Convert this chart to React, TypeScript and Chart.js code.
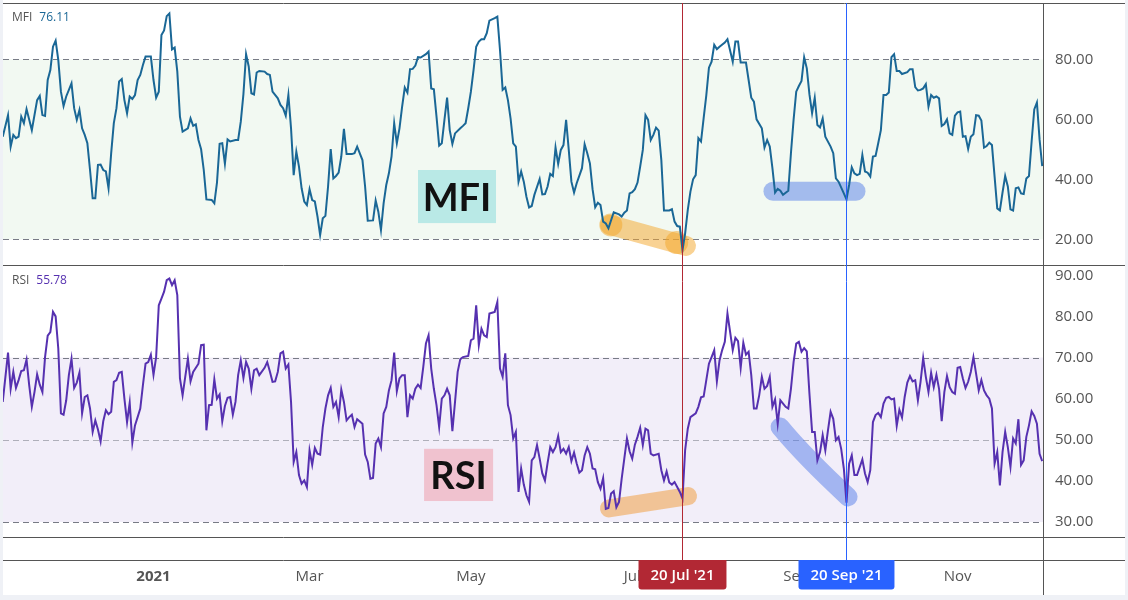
import React, { useEffect, useRef } from "react";
import { Chart, registerables } from "chart.js";

Chart.register(...registerables);

// ---------- data (x = days since 2021-01-01) ----------
const mfiDays = [
  -57, -55, -54, -53, -52, -51, -50, -49, -48, -46, -44, -43, -42, -41, -40, -39, -38, -37, -36, -35,
  -34, -33, -31, -30, -29, -28, -27, -26, -25, -24, -23, -22, -21, -20, -19, -18, -17, -16, -15, -14,
  -13, -12, -11, -10, -9, -8, -7, -6, -5, -4, -3, -1, 0, 1, 2, 3, 4, 5, 6, 7,
  8, 9, 10, 11, 13, 14, 15, 16, 17, 18, 19, 20, 22, 23, 24, 25, 26, 27, 28, 29,
  31, 32, 33, 34, 35, 36, 37, 38, 39, 40, 42, 43, 44, 45, 47, 48, 49, 50, 51, 52,
  53, 54, 55, 56, 57, 58, 59, 60, 61, 62, 63, 64, 65, 66, 67, 68, 69, 70, 71, 72,
  73, 75, 76, 77, 79, 80, 81, 83, 84, 85, 86, 87, 88, 89, 90, 91, 92, 93, 94, 95,
  96, 97, 98, 99, 100, 101, 103, 104, 105, 106, 107, 108, 109, 110, 111, 112, 113, 114, 116, 117,
  118, 119, 120, 121, 122, 123, 124, 125, 126, 127, 128, 129, 130, 131, 132, 133, 134, 135, 136, 137,
  138, 139, 140, 141, 142, 143, 144, 146, 147, 148, 149, 150, 151, 152, 153, 154, 155, 156, 157, 158,
  159, 160, 162, 163, 164, 165, 166, 167, 168, 169, 170, 171, 172, 174, 176, 177, 178, 179, 180, 181,
  182, 183, 184, 185, 186, 187, 188, 189, 190, 191, 192, 193, 195, 196, 197, 198, 199, 200, 201, 202,
  203, 204, 205, 206, 207, 208, 209, 210, 211, 212, 213, 214, 216, 217, 219, 220, 221, 222, 224, 225,
  226, 227, 228, 230, 231, 232, 233, 234, 235, 236, 237, 238, 240, 241, 242, 243, 244, 245, 246, 247,
  248, 249, 250, 251, 252, 253, 254, 256, 257, 258, 259, 261, 262, 263, 264, 265, 266, 267, 268, 269,
  270, 271, 272, 273, 274, 275, 276, 277, 278, 279, 280, 281, 282, 283, 285, 286, 287, 288, 289, 290,
  291, 292, 293, 294, 295, 296, 297, 298, 299, 300, 301, 302, 303, 304, 305, 306, 307, 308, 309, 310,
  311, 312, 313, 314, 315, 316, 317, 318, 319, 320, 321, 322, 323, 324, 325, 326, 327, 328, 329, 330,
  331, 332, 333, 334, 335, 336,
];
const mfiValues = [
  54.2, 61.4, 50.9, 54.8, 53.7, 54.2, 60.9, 58.7, 63.4, 56.4, 66.4, 67.8, 61.4, 61.1, 73.1, 76.4, 84.2, 86.2, 79.8, 69.2,
  64.4, 67.6, 72.0, 63.7, 59.8, 63.1, 57.0, 54.8, 52.0, 43.1, 33.7, 33.7, 44.8, 44.9, 43.1, 42.6, 37.0, 48.7, 58.7, 63.7,
  72.6, 73.4, 66.4, 62.0, 67.6, 66.8, 68.1, 73.1, 74.8, 78.1, 80.9, 80.9, 73.1, 67.2, 69.2, 88.1, 89.6, 94.4, 95.3, 83.3,
  83.9, 75.9, 60.9, 55.9, 57.0, 60.3, 57.8, 58.3, 53.1, 50.0, 43.1, 33.3, 33.1, 32.0, 38.9, 51.8, 52.0, 45.2, 53.3, 52.6,
  53.1, 53.1, 59.2, 68.4, 81.7, 77.6, 68.7, 68.3, 75.6, 76.1, 75.9, 75.1, 74.8, 69.2, 67.0, 64.8, 63.7, 61.2, 68.1, 57.0,
  41.4, 49.2, 44.2, 37.0, 32.6, 31.4, 36.7, 33.1, 32.6, 27.6, 21.4, 27.0, 27.8, 37.6, 50.1, 40.3, 41.1, 42.2, 47.6, 56.8,
  48.4, 48.4, 48.7, 50.9, 46.4, 37.6, 26.2, 26.3, 32.9, 29.2, 23.1, 32.0, 38.1, 42.0, 47.6, 58.7, 52.0, 57.0, 64.2, 70.6,
  68.9, 76.7, 76.8, 77.9, 80.7, 80.6, 81.7, 82.6, 70.3, 70.0, 60.9, 51.2, 52.0, 59.8, 67.2, 56.4, 51.8, 55.3, 57.0, 57.8,
  58.7, 63.7, 69.2, 76.4, 84.2, 85.9, 86.7, 86.7, 88.7, 92.9, 93.3, 93.7, 94.2, 83.1, 69.8, 70.6, 66.4, 60.3, 52.0, 50.9,
  39.2, 42.6, 39.2, 34.2, 30.6, 31.1, 34.8, 40.1, 35.0, 35.1, 37.6, 41.8, 41.1, 50.6, 45.1, 49.8, 51.4, 59.8, 49.8, 39.2,
  35.6, 38.7, 43.7, 51.7, 48.7, 45.3, 36.7, 30.7, 32.2, 31.4, 25.9, 25.3, 23.7, 29.0, 28.3, 27.6, 28.9, 29.6, 35.3, 35.7,
  36.7, 38.9, 44.2, 49.8, 61.4, 59.8, 53.1, 54.8, 57.2, 56.2, 46.4, 29.6, 29.6, 30.0, 25.9, 24.4, 24.2, 16.4, 22.0, 29.8,
  35.9, 40.0, 41.4, 53.7, 52.6, 60.4, 68.0, 77.2, 79.2, 84.8, 83.4, 84.2, 85.6, 86.7, 79.2, 85.9, 85.9, 78.9, 78.9, 73.1,
  67.2, 65.9, 60.0, 57.0, 50.6, 53.1, 50.9, 43.7, 35.6, 36.8, 36.2, 34.8, 36.2, 48.7, 59.8, 69.2, 71.1, 72.8, 80.7, 77.0,
  68.3, 62.0, 67.2, 58.1, 57.3, 60.3, 54.2, 50.9, 48.7, 40.3, 39.2, 35.3, 33.3, 38.1, 44.0, 42.0, 41.4, 41.8, 48.1, 42.6,
  42.2, 40.9, 47.6, 47.8, 52.0, 56.4, 68.1, 68.1, 68.9, 80.7, 81.7, 76.1, 76.1, 75.1, 75.7, 76.7, 76.7, 70.7, 69.6, 69.8,
  70.3, 71.7, 64.2, 68.1, 67.2, 67.6, 67.0, 57.8, 58.4, 60.0, 55.3, 54.8, 61.2, 62.3, 62.6, 54.2, 54.4, 50.1, 54.2, 55.0,
  61.4, 61.2, 59.6, 50.6, 51.1, 52.2, 51.4, 40.9, 30.3, 29.6, 35.6, 41.1, 37.6, 30.0, 29.6, 37.0, 37.3, 35.3, 35.1, 40.3,
  41.1, 52.6, 63.3, 65.6, 53.3, 44.4,
];

const rsiDays = [
  -57, -55, -54, -53, -52, -51, -50, -49, -48, -47, -46, -45, -44, -43, -42, -41, -40, -39, -38, -37,
  -36, -35, -34, -33, -32, -31, -30, -29, -28, -27, -26, -25, -24, -23, -22, -21, -20, -19, -18, -17,
  -16, -15, -14, -13, -12, -11, -10, -9, -8, -7, -6, -5, -4, -3, -2, -1, 0, 1, 2, 3,
  4, 5, 6, 7, 8, 9, 10, 11, 12, 13, 14, 15, 17, 18, 19, 20, 21, 22, 23, 24,
  25, 26, 27, 28, 29, 30, 31, 32, 33, 34, 35, 36, 37, 38, 39, 40, 42, 43, 44, 45,
  46, 47, 48, 49, 50, 51, 52, 53, 54, 55, 56, 57, 58, 59, 60, 61, 62, 63, 64, 65,
  66, 67, 68, 69, 70, 71, 72, 73, 74, 75, 76, 77, 79, 80, 81, 82, 83, 84, 85, 86,
  87, 88, 89, 90, 91, 92, 93, 94, 95, 96, 97, 98, 99, 100, 101, 102, 103, 104, 105, 106,
  107, 108, 109, 110, 111, 112, 113, 114, 115, 116, 117, 119, 120, 121, 122, 123, 124, 125, 126, 127,
  128, 129, 130, 131, 132, 133, 134, 135, 136, 137, 138, 139, 140, 141, 142, 143, 144, 145, 146, 147,
  148, 149, 150, 151, 152, 153, 154, 155, 156, 157, 158, 159, 160, 161, 162, 163, 164, 165, 166, 167,
  168, 169, 170, 171, 172, 173, 174, 175, 176, 177, 178, 179, 180, 181, 182, 183, 184, 185, 186, 187,
  188, 189, 191, 192, 193, 194, 195, 196, 197, 198, 199, 200, 201, 202, 203, 205, 206, 207, 208, 209,
  210, 211, 212, 213, 214, 215, 216, 217, 219, 220, 221, 222, 223, 224, 225, 226, 227, 228, 229, 230,
  231, 232, 233, 234, 235, 236, 237, 239, 240, 241, 242, 243, 244, 245, 246, 247, 248, 249, 250, 251,
  252, 253, 254, 255, 256, 257, 258, 259, 260, 261, 262, 263, 264, 265, 266, 268, 269, 270, 271, 272,
  273, 274, 275, 276, 277, 278, 279, 280, 281, 282, 283, 284, 285, 286, 287, 288, 289, 290, 291, 292,
  293, 294, 295, 296, 297, 298, 299, 300, 301, 302, 303, 304, 305, 306, 307, 308, 309, 310, 311, 312,
  313, 314, 315, 316, 317, 318, 319, 320, 321, 322, 323, 324, 325, 326, 327, 328, 329, 330, 331, 332,
  333, 334, 335, 336,
];
const rsiValues = [
  59.2, 71.2, 62.4, 66.5, 62.6, 64.5, 66.7, 66.9, 69.5, 63.3, 58.0, 61.6, 65.9, 63.4, 61.6, 70.1, 75.3, 76.2, 81.1, 80.0,
  72.2, 56.4, 56.1, 59.6, 65.7, 69.7, 62.6, 63.9, 66.3, 56.4, 60.4, 60.8, 57.6, 51.9, 54.7, 52.5, 49.6, 54.5, 57.2, 56.2,
  56.8, 64.1, 64.5, 66.3, 66.5, 60.0, 54.3, 59.0, 49.3, 53.5, 55.5, 57.6, 63.3, 68.5, 68.9, 70.7, 65.8, 70.1, 82.7, 84.3,
  86.0, 88.8, 89.2, 87.6, 88.8, 85.2, 64.9, 60.8, 65.3, 69.7, 64.2, 66.5, 68.5, 73.0, 73.1, 52.3, 58.4, 58.5, 64.7, 60.0,
  61.0, 54.5, 58.2, 60.2, 60.4, 56.1, 59.2, 65.7, 69.3, 65.0, 68.9, 67.3, 62.4, 66.9, 67.3, 65.7, 67.5, 68.9, 66.6, 64.1,
  64.2, 66.5, 71.0, 71.4, 67.3, 68.3, 59.2, 44.6, 47.0, 41.4, 39.3, 40.1, 38.5, 47.4, 43.9, 48.0, 46.6, 46.4, 53.1, 57.6,
  60.8, 62.6, 58.0, 59.2, 55.5, 62.2, 59.2, 54.7, 55.5, 56.1, 53.1, 55.0, 53.9, 46.4, 44.6, 40.5, 40.7, 49.1, 50.3, 48.2,
  56.4, 58.0, 62.0, 64.5, 71.2, 61.8, 64.9, 65.7, 65.7, 55.5, 60.8, 60.0, 62.4, 63.4, 62.6, 67.7, 73.4, 75.4, 67.3, 62.4,
  58.4, 53.1, 60.0, 60.8, 62.4, 60.8, 52.1, 59.2, 66.5, 69.6, 70.1, 70.4, 74.2, 74.6, 82.7, 73.0, 77.0, 75.4, 75.0, 80.7,
  80.9, 81.1, 83.5, 67.3, 65.3, 71.0, 58.4, 56.0, 50.3, 51.9, 37.3, 43.0, 39.1, 36.5, 34.9, 45.0, 45.8, 48.7, 45.4, 41.8,
  40.1, 44.4, 48.2, 47.0, 48.2, 50.9, 47.0, 47.8, 46.6, 48.2, 44.8, 46.9, 44.2, 42.0, 42.6, 46.2, 48.2, 46.6, 43.0, 42.8,
  39.7, 38.1, 40.7, 33.2, 33.4, 36.9, 37.5, 33.6, 34.9, 40.5, 45.4, 50.3, 47.2, 45.4, 48.8, 50.7, 52.9, 48.7, 52.7, 52.3,
  46.6, 46.2, 46.6, 42.6, 40.1, 42.3, 39.6, 39.1, 39.7, 38.5, 37.3, 35.7, 47.5, 52.7, 55.5, 56.4, 58.0, 60.3, 60.5, 64.5,
  68.5, 70.1, 71.8, 64.2, 69.3, 71.8, 73.8, 80.7, 71.8, 74.8, 74.0, 67.5, 73.6, 70.7, 71.4, 65.7, 57.6, 57.6, 60.8, 65.3,
  62.4, 63.1, 65.3, 58.0, 59.8, 53.9, 59.6, 58.0, 57.6, 62.4, 68.9, 73.4, 73.8, 71.4, 72.3, 71.5, 61.2, 51.9, 51.9, 45.0,
  47.0, 51.1, 47.4, 52.3, 56.8, 55.1, 49.9, 50.7, 47.8, 43.0, 34.7, 44.2, 46.2, 41.4, 41.4, 45.2, 41.8, 39.7, 42.6, 54.3,
  56.0, 56.5, 55.5, 58.8, 60.2, 60.4, 59.8, 60.0, 53.4, 57.3, 55.4, 60.4, 63.9, 65.5, 64.2, 64.5, 59.6, 64.1, 69.9, 65.3,
  61.6, 66.3, 62.8, 65.8, 62.4, 54.5, 61.6, 65.5, 62.8, 61.6, 61.2, 67.5, 67.7, 64.9, 62.6, 64.1, 66.5, 70.1, 66.1, 62.0,
  64.5, 62.0, 60.8, 60.0, 57.6, 44.2, 47.0, 38.9, 47.0, 51.9, 48.2, 43.4, 50.3, 49.1, 55.0, 43.9, 45.0, 50.7, 53.5, 56.9,
  55.8, 53.9, 46.6, 44.8,
];

const monthTickDays = [0, 59, 120, 181, 243, 304];
const monthTickLabels = ["2021", "Mar", "May", "Jul", "Sep", "Nov"];
const mfiTicks = [20, 40, 60, 80];
const rsiTicks = [30, 40, 50, 60, 70, 80, 90];
const mfiLevels = [20, 80];
const rsiLevels = [30, 70];
const rsiMidLevel = 50;
const crosshairDays = [200, 262];
const mfiHeaderValue = "76.11";
const rsiHeaderValue = "55.78";

// ---------- styles / annotations (in data units) ----------
const FONT = '"Open Sans", "DejaVu Sans", sans-serif';
const TEXT = "#555";
const MFI_COLOR = "#1a6796";
const RSI_COLOR = "#5631b0";
const FRAME = "#555";
const CROSS_COLORS = ["#b22834", "#2962ff"];
const MONTHS = ["Jan", "Feb", "Mar", "Apr", "May", "Jun", "Jul", "Aug", "Sep", "Oct", "Nov", "Dec"];

function dateLabel(day: number) {
  const dt = new Date(Date.UTC(2021, 0, 1 + day));
  return `${dt.getUTCDate()} ${MONTHS[dt.getUTCMonth()]} '${String(dt.getUTCFullYear()).slice(2)}`;
}

const noPad = (s: any) => {
  s.paddingTop = 0;
  s.paddingBottom = 0;
  s.paddingLeft = 0;
  s.paddingRight = 0;
};

const decor = {
  id: "decor",
  beforeDraw(chart: any) {
    const { ctx, width, height } = chart;
    ctx.save();
    ctx.fillStyle = "#eff1f6";
    ctx.fillRect(0, 0, width, height);
    ctx.fillStyle = "#ffffff";
    ctx.fillRect(3, 0, width - 6, height - 5);
    ctx.restore();
  },
  beforeDatasetsDraw(chart: any) {
    const { ctx, chartArea } = chart;
    const xs = chart.scales.x;
    const ym = chart.scales.yMfi;
    const yr = chart.scales.yRsi;
    const L = chartArea.left;
    const R = chartArea.right;
    ctx.save();
    // bands
    ctx.fillStyle = "rgba(76,175,80,0.075)";
    const m80 = ym.getPixelForValue(mfiLevels[1]);
    const m20 = ym.getPixelForValue(mfiLevels[0]);
    ctx.fillRect(L, m80, R - L, m20 - m80);
    ctx.fillStyle = "rgba(126,87,194,0.1)";
    const r70 = yr.getPixelForValue(rsiLevels[1]);
    const r30 = yr.getPixelForValue(rsiLevels[0]);
    ctx.fillRect(L, r70, R - L, r30 - r70);
    // dashed levels
    ctx.lineWidth = 1;
    ctx.setLineDash([6, 4]);
    const hline = (y: number, color: string) => {
      ctx.strokeStyle = color;
      ctx.beginPath();
      ctx.moveTo(L, Math.round(y) + 0.5);
      ctx.lineTo(R, Math.round(y) + 0.5);
      ctx.stroke();
    };
    mfiLevels.forEach((v) => hline(ym.getPixelForValue(v), "#787b86"));
    rsiLevels.forEach((v) => hline(yr.getPixelForValue(v), "#787b86"));
    hline(yr.getPixelForValue(rsiMidLevel), "rgba(120,123,134,0.55)");
    ctx.setLineDash([]);

    const P = (d: number, v: number, s: any) => [xs.getPixelForValue(d), s.getPixelForValue(v)];
    const seg = (pts: number[][], w: number, color: string, ctrl?: number[]) => {
      ctx.strokeStyle = color;
      ctx.lineWidth = w;
      ctx.lineCap = "round";
      ctx.beginPath();
      ctx.moveTo(pts[0][0], pts[0][1]);
      if (ctrl) ctx.quadraticCurveTo(ctrl[0], ctrl[1], pts[1][0], pts[1][1]);
      else ctx.lineTo(pts[1][0], pts[1][1]);
      ctx.stroke();
    };
    const dot = (p: number[], r: number, color: string) => {
      ctx.fillStyle = color;
      ctx.beginPath();
      ctx.arc(p[0], p[1], r, 0, Math.PI * 2);
      ctx.fill();
    };
    // text boxes
    const box = (d0: number, d1: number, v0: number, v1: number, s: any, fill: string, text: string) => {
      const [x0, y0] = P(d0, v1, s);
      const [x1, y1] = P(d1, v0, s);
      ctx.fillStyle = fill;
      ctx.fillRect(x0, y0, x1 - x0, y1 - y0);
      ctx.fillStyle = "#111";
      ctx.font = 'bold 38px "Lato", sans-serif';
      ctx.textAlign = "center";
      ctx.textBaseline = "alphabetic";
      ctx.fillText(text, (x0 + x1) / 2, (y0 + y1) / 2 + 14);
    };
    box(100, 129.5, 25.4, 43.1, ym, "#b9e9e6", "MFI");
    box(102.3, 128.4, 35.1, 47.8, yr, "#f0c2cf", "RSI");

    // highlighter strokes
    const orange = "rgba(243,165,40,0.5)";
    seg([P(172.6, 24.8, ym), P(201.3, 17.8, ym)], 20, orange);
    dot(P(172.9, 24.8, ym), 11.5, orange);
    dot(P(197.8, 18.9, ym), 11.5, orange);
    seg([P(172.2, 33.3, yr), P(202.1, 36.3, yr)], 18, "rgba(240,160,70,0.55)");
    const blue = "rgba(66,110,230,0.45)";
    seg([P(234.2, 36.0, ym), P(265.6, 36.0, ym)], 19, blue);
    seg([P(236.9, 53.1, yr), P(262.6, 36.1, yr)], 19, blue, P(246.3, 45.8, yr));
    ctx.restore();
  },
  afterDraw(chart: any) {
    const { ctx, chartArea, width, height } = chart;
    const xs = chart.scales.x;
    const ym = chart.scales.yMfi;
    const yr = chart.scales.yRsi;
    ctx.save();
    // frame lines
    ctx.strokeStyle = FRAME;
    ctx.lineWidth = 1;
    const ys = [chartArea.top, ym.bottom, yr.bottom, chartArea.bottom];
    ys.forEach((y) => {
      ctx.beginPath();
      ctx.moveTo(3, Math.round(y) + 0.5);
      ctx.lineTo(width - 3, Math.round(y) + 0.5);
      ctx.stroke();
    });
    ctx.beginPath();
    ctx.moveTo(Math.round(chartArea.right) + 0.5, chartArea.top);
    ctx.lineTo(Math.round(chartArea.right) + 0.5, height - 5);
    ctx.stroke();

    // crosshair verticals
    crosshairDays.forEach((d, i) => {
      const x = Math.round(xs.getPixelForValue(d)) + 0.5;
      ctx.strokeStyle = CROSS_COLORS[i];
      ctx.beginPath();
      ctx.moveTo(x, chartArea.top);
      ctx.lineTo(x, chartArea.bottom);
      ctx.stroke();
    });
    // crosshair date labels
    ctx.font = `600 15px ${FONT}`;
    ctx.textAlign = "center";
    ctx.textBaseline = "middle";
    crosshairDays.forEach((d, i) => {
      const x = xs.getPixelForValue(d);
      const label = dateLabel(d);
      const w = ctx.measureText(label).width + 24;
      const top = chartArea.bottom;
      ctx.fillStyle = CROSS_COLORS[i];
      ctx.beginPath();
      if (ctx.roundRect) ctx.roundRect(x - w / 2, top, w, 29.5, [0, 0, 3, 3]);
      else ctx.rect(x - w / 2, top, w, 29.5);
      ctx.fill();
      ctx.fillStyle = "#ffffff";
      ctx.fillText(label, x, top + 15.5);
    });

    // pane headers
    ctx.textAlign = "left";
    ctx.textBaseline = "middle";
    const header = (name: string, value: string, color: string, y: number) => {
      ctx.font = `12px ${FONT}`;
      ctx.fillStyle = TEXT;
      ctx.fillText(name, 12, y);
      const w = ctx.measureText(name).width;
      ctx.fillStyle = color;
      ctx.fillText(value, 12 + w + 7, y);
    };
    header("MFI", mfiHeaderValue, MFI_COLOR, ym.top + 15);
    header("RSI", rsiHeaderValue, RSI_COLOR, yr.top + 16);
    ctx.restore();
  },
};

const yAxisBase = (ticks: number[], min: number, max: number, weight: number) => ({
  type: "linear" as const,
  position: "right" as const,
  stack: "panes",
  stackWeight: weight,
  min,
  max,
  grid: { display: false, drawTicks: false },
  border: { display: false },
  afterBuildTicks: (s: any) => {
    s.ticks = ticks.map((v) => ({ value: v }));
  },
  afterFit: (s: any) => {
    s.width = 82;
    noPad(s);
  },
  ticks: {
    padding: 12,
    color: TEXT,
    font: { family: FONT, size: 15 },
    callback: (v: any) => Number(v).toFixed(2),
  },
});

export default function App() {
  const ref = useRef<HTMLCanvasElement | null>(null);
  useEffect(() => {
    if (!ref.current) return;
    const chart = new Chart(ref.current, {
      type: "line",
      data: {
        datasets: [
          {
            label: "MFI",
            data: mfiDays.map((d, i) => ({ x: d, y: mfiValues[i] })),
            xAxisID: "x",
            yAxisID: "yMfi",
            borderColor: MFI_COLOR,
            borderWidth: 2,
            pointRadius: 0,
            tension: 0,
            fill: false,
          },
          {
            label: "RSI",
            data: rsiDays.map((d, i) => ({ x: d, y: rsiValues[i] })),
            xAxisID: "x",
            yAxisID: "yRsi",
            borderColor: RSI_COLOR,
            borderWidth: 2,
            pointRadius: 0,
            tension: 0,
            fill: false,
          },
        ],
      },
      options: {
        animation: false,
        responsive: false,
        layout: { padding: { left: 3, right: 3, top: 3, bottom: 5 } },
        plugins: { legend: { display: false }, tooltip: { enabled: false } },
        events: [],
        scales: {
          x: {
            type: "linear",
            position: "bottom",
            min: -56.9,
            max: 336.3,
            grid: { display: false, drawTicks: false },
            border: { display: false },
            afterBuildTicks: (s: any) => {
              s.ticks = monthTickDays.map((v) => ({ value: v }));
            },
            afterFit: (s: any) => {
              s.height = 35;
              noPad(s);
            },
            ticks: {
              autoSkip: false,
              maxRotation: 0,
              padding: 8,
              color: TEXT,
              font: (c: any) => ({
                family: FONT,
                size: 15,
                weight: c.tick && c.tick.value === 0 ? "bold" : "normal",
              }),
              callback: (v: any) => monthTickLabels[monthTickDays.indexOf(Number(v))] ?? "",
            },
          },
          yMfi: yAxisBase(mfiTicks, 11.43, 98.77, 262),
          yRsi: yAxisBase(rsiTicks, 26.35, 92.5, 272),
          yMain: {
            type: "linear",
            position: "right",
            stack: "panes",
            stackWeight: 23,
            min: 0,
            max: 1,
            grid: { display: false, drawTicks: false },
            border: { display: false },
            ticks: { display: false },
            afterFit: (s: any) => {
              s.width = 82;
              noPad(s);
            },
          },
        } as any,
      },
      plugins: [decor],
    } as any);
    return () => chart.destroy();
  }, []);

  return (
    <div style={{ position: "absolute", left: 0, top: 0, width: 1128, height: 600, background: "#fff" }}>
      <canvas ref={ref} width={1128} height={600} style={{ display: "block", width: 1128, height: 600 }} />
    </div>
  );
}
